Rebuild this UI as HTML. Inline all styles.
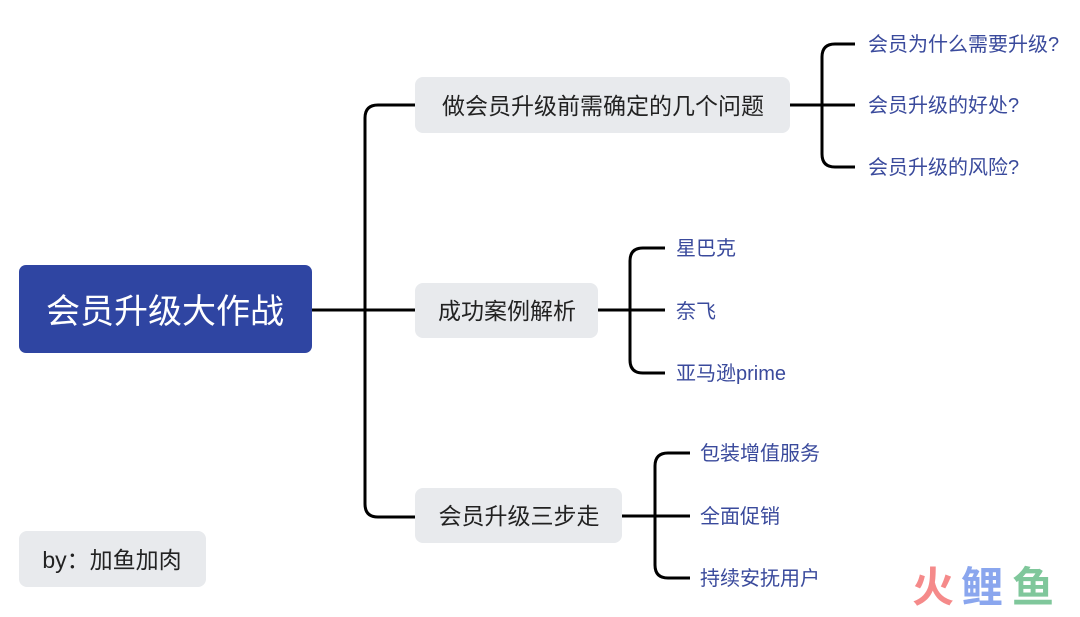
<!DOCTYPE html>
<html><head><meta charset="utf-8"><style>
body{margin:0;background:#fff;width:1080px;height:612px;overflow:hidden}
svg text{font-family:"Liberation Sans","Noto Sans CJK SC",sans-serif}
</style></head><body>
<svg width="1080" height="612" viewBox="0 0 1080 612" xmlns="http://www.w3.org/2000/svg">
<g fill="none" stroke="#000" stroke-width="3">
<path d="M312 310 H415"/>
<path d="M415 105 H378 Q365 105 365 118 V504 Q365 517 378 517 H415"/>
<path d="M790 105 H855"/>
<path d="M855 44 H835 Q822 44 822 57 V154 Q822 167 835 167 H855"/>
<path d="M598 310 H665"/>
<path d="M665 248 H643 Q630 248 630 261 V360 Q630 373 643 373 H665"/>
<path d="M622 516 H690"/>
<path d="M690 453 H668 Q655 453 655 466 V565 Q655 578 668 578 H690"/>
</g>
<rect x="19" y="265" width="293" height="88" rx="7" fill="#2f45a2"/>
<text x="165" y="323" font-size="34" fill="#fff" text-anchor="middle">会员升级大作战</text>
<rect x="415" y="77" width="375" height="56" rx="8" fill="#e8eaed"/>
<text x="603" y="114" font-size="23" fill="#222" text-anchor="middle">做会员升级前需确定的几个问题</text>
<rect x="415" y="283" width="183" height="55" rx="8" fill="#e8eaed"/>
<text x="507" y="319" font-size="23" fill="#222" text-anchor="middle">成功案例解析</text>
<rect x="415" y="488" width="207" height="55" rx="8" fill="#e8eaed"/>
<text x="519" y="524" font-size="23" fill="#222" text-anchor="middle">会员升级三步走</text>
<rect x="19" y="531" width="187" height="56" rx="8" fill="#e8eaed"/>
<text x="112" y="568" font-size="23" fill="#222" text-anchor="middle">by：加鱼加肉</text>
<g font-size="20" fill="#3a4a9c">
<text x="868" y="51">会员为什么需要升级?</text>
<text x="868" y="112">会员升级的好处?</text>
<text x="868" y="174">会员升级的风险?</text>
<text x="676" y="255">星巴克</text>
<text x="676" y="318">奈飞</text>
<text x="676" y="380">亚马逊prime</text>
<text x="700" y="460">包装增值服务</text>
<text x="700" y="523">全面促销</text>
<text x="700" y="585">持续安抚用户</text>
</g>
<g font-size="42" font-weight="bold">
<text x="912" y="602" fill="#f58a8a">火</text>
<text x="961" y="602" fill="#8aa6ee">鲤</text>
<text x="1012" y="602" fill="#7fc79b">鱼</text>
</g>
</svg>
</body></html>
